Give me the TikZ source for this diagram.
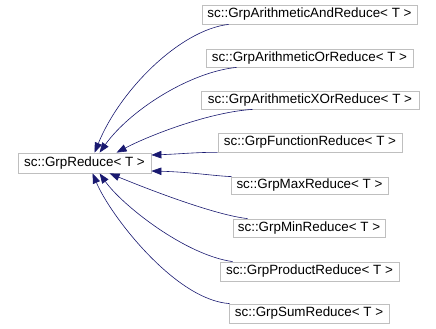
\documentclass[tikz,border=0pt]{standalone}
\usepackage{fontspec}
\setmainfont{Liberation Sans}
\usetikzlibrary{arrows.meta}
\definecolor{edgecol}{RGB}{25,25,112}
\definecolor{boxcol}{RGB}{191,191,191}
\begin{document}
\begin{tikzpicture}[x=1pt,y=-1pt,
  cls/.style={draw=boxcol,line width=0.8pt,inner sep=0pt,minimum height=19pt,
    font=\fontsize{13.4}{15}\selectfont,text=black},
  inh/.style={draw=edgecol,line width=0.6pt,{Triangle[length=10pt,width=7.5pt]}-}]
\useasboundingbox (0,0) rectangle (436,329);
\node[cls,minimum width=133pt,minimum height=20pt] (base) at (84.5,163) {sc::GrpReduce< T >};
\node[cls,minimum width=215pt] (and) at (309.5,14.5) {sc::GrpArithmeticAndReduce< T >};
\node[cls,minimum width=207pt,minimum height=18pt] (or) at (309.5,58) {sc::GrpArithmeticOrReduce< T >};
\node[cls,minimum width=218pt,minimum height=18pt] (xor) at (310,100) {sc::GrpArithmeticXOrReduce< T >};
\node[cls,minimum width=184pt] (fun) at (310,142.5) {sc::GrpFunctionReduce< T >};
\node[cls,minimum width=157pt,minimum height=17pt] (max) at (309.5,185.5) {sc::GrpMaxReduce< T >};
\node[cls,minimum width=152pt,minimum height=18pt] (min) at (309,228) {sc::GrpMinReduce< T >};
\node[cls,minimum width=179pt] (prod) at (309.5,271.5) {sc::GrpProductReduce< T >};
\node[cls,minimum width=160pt] (sum) at (309,313.5) {sc::GrpSumReduce< T >};

\draw[inh] ([xshift=77pt]base.north west) .. controls (120,90) and (180,30) .. ([xshift=27pt]and.south west);
\draw[inh] ([xshift=82pt]base.north west) .. controls (130,110) and (190,72) .. ([xshift=31pt]or.south west);
\draw[inh] ([xshift=99pt]base.north west) .. controls (150,135) and (210,112) .. ([xshift=52pt]xor.south west);
\draw[inh] ([yshift=8pt]base.east) .. controls (180,154) and (200,152) .. (fun.south west);
\draw[inh] ([yshift=-8pt]base.east) .. controls (190,172) and (215,176) .. ([xshift=1pt]max.north west);
\draw[inh] ([xshift=92pt]base.south west) .. controls (150,190) and (215,215) .. ([xshift=15pt]min.north west);
\draw[inh] ([xshift=82pt]base.south west) .. controls (122,205) and (185,255) .. ([xshift=13pt]prod.north west);
\draw[inh] ([xshift=75pt]base.south west) .. controls (110,215) and (175,300) .. ([xshift=1pt]sum.north west);
\end{tikzpicture}
\end{document}
